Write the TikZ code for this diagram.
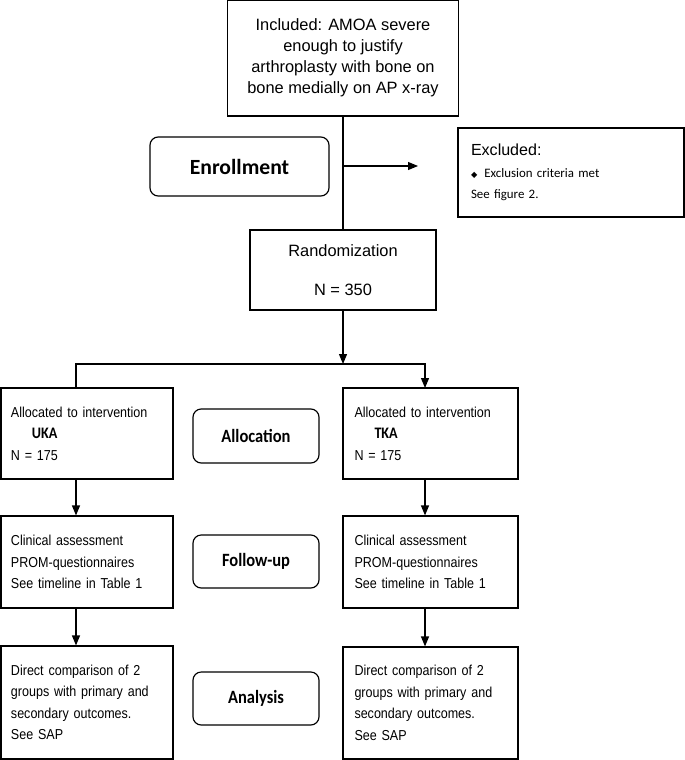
\documentclass[tikz,border=0pt]{standalone}
\usepackage{fontspec}
\setmainfont{Liberation Sans}
\newfontfamily\narrowfont[FakeStretch=0.87]{Liberation Sans}
\newfontfamily\calfont{Carlito}
\newfontfamily\narrowcal[FakeStretch=0.88]{Carlito}
\newfontfamily\symfont{DejaVu Sans}
\usetikzlibrary{arrows.meta, positioning}

\tikzset{
  box/.style={rectangle, draw, line width=1pt, inner sep=0pt},
  armbox/.style={box, minimum width=5.16cm, text width=4.56cm, align=left,
    font=\narrowfont\fontsize{12.3}{18.4}\selectfont},
  phase/.style={rectangle, draw, line width=1pt, rounded corners=7pt,
    minimum width=3.78cm, font=\narrowcal\bfseries\fontsize{16}{19}\selectfont},
}

\begin{document}
\begin{tikzpicture}[x=0.03cm, y=-0.03cm, >={Triangle[length=0.3cm,width=0.24cm]}]
    \useasboundingbox (0,0) rectangle (685,760);

    % Inclusion
    \node[box,minimum width=6.93cm,minimum height=3.48cm,align=center,font=\fontsize{14}{17.9}\selectfont] (incl) at (343,58)
        {Included: AMOA severe\\enough to justify\\arthroplasty with bone on\\bone medially on AP x-ray};
    \node[phase,minimum width=5.37cm,minimum height=1.77cm,font=\calfont\bfseries\fontsize{18.5}{22}\selectfont] (enrol) at (239.5,166.5) {Enrollment};

    % Exclusion
    \node[box,minimum width=6.78cm,minimum height=2.67cm,text width=6.0cm,align=left,font=\calfont\fontsize{11}{18.4}\selectfont] (excl) at (571,172.5)
        {{\rmfamily\fontsize{13.7}{18.4}\selectfont Excluded:}\\
         {\symfont\fontsize{7}{8}\selectfont ◆}\hspace{6pt}Exclusion criteria met\\
         See figure 2.};
    \coordinate (exclin) at (418,166);
    \draw[->,line width=1pt] (incl.south |- exclin) -- (exclin);

    % Randomisation
    \node[box,minimum width=5.58cm,minimum height=2.4cm,align=center,font=\fontsize{14}{17.9}\selectfont] (rand) at (343,270)
        {Randomization\\[15pt]N = 350};
    \draw[line width=1pt] (incl) -- (rand);

    % Allocation
    \node[armbox,minimum height=2.73cm] (uka) at (87,433.5)
        {Allocated to intervention\\\hspace*{0.63cm}{\narrowcal\bfseries\fontsize{13.7}{18.4}\selectfont UKA}\\N = 175};
    \node[armbox,minimum width=5.25cm,minimum height=2.73cm] (tka) at (430.5,433.5)
        {Allocated to intervention\\\hspace*{0.6cm}{\narrowcal\bfseries\fontsize{13.7}{18.4}\selectfont TKA}\\N = 175};
    \node[phase,minimum height=1.62cm] (alloc) at (256,436) {Allocation};

    \coordinate (split) at (343,364);
    \coordinate (ukain) at (76,388);
    \coordinate (tkain) at (425,388);
    \draw[->,line width=1pt] (rand) -- (split);
    \draw[line width=1pt] (split) -| (ukain);
    \draw[->,line width=1pt] (split) -| (tkain);

    % Follow-up
    \node[armbox,minimum height=2.76cm] (fuL) at (87,562)
        {Clinical assessment\\PROM-questionnaires\\See timeline in Table 1};
    \node[armbox,minimum width=5.25cm,minimum height=2.76cm] (fuR) at (430.5,562)
        {Clinical assessment\\PROM-questionnaires\\See timeline in Table 1};
    \node[phase,minimum height=1.59cm] (follow) at (256,561.5) {Follow-up};

    \draw[->,line width=1pt] (uka.south -| ukain) -- (fuL.north -| ukain);
    \draw[->,line width=1pt] (tka.south -| tkain) -- (fuR.north -| tkain);

    % Analysis
    \node[armbox,minimum height=3.39cm] (anL) at (87,702.5)
        {Direct comparison of 2\\groups with primary and\\secondary outcomes.\\See SAP};
    \node[armbox,minimum width=5.25cm,minimum height=3.36cm] (anR) at (430.5,703)
        {Direct comparison of 2\\groups with primary and\\secondary outcomes.\\See SAP};
    \node[phase,minimum height=1.59cm] (analysis) at (256,698.5) {Analysis};

    \draw[->,line width=1pt] (fuL.south -| ukain) -- (anL.north -| ukain);
    \draw[->,line width=1pt] (fuR.south -| tkain) -- (anR.north -| tkain);
\end{tikzpicture}
\end{document}
